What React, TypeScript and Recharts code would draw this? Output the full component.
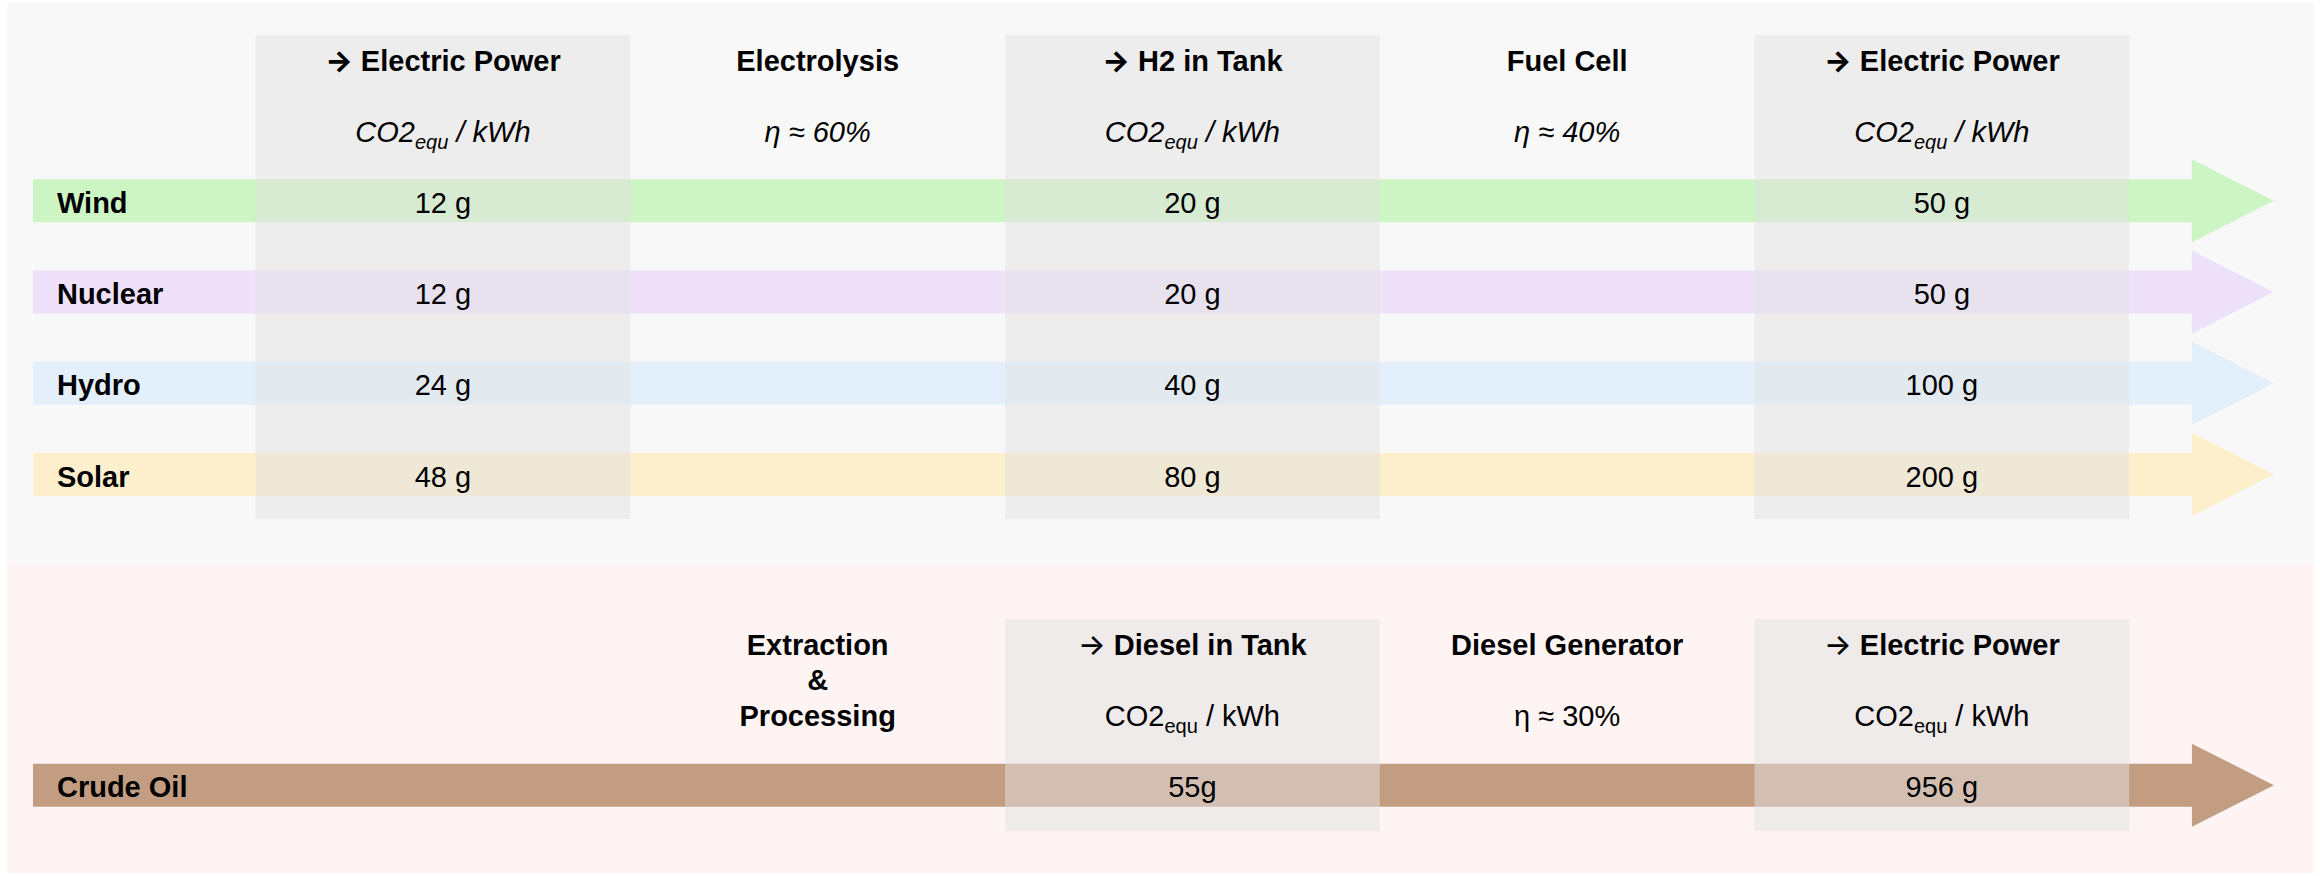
import React from 'react';
import { ComposedChart, Bar, Scatter, XAxis, YAxis, ReferenceArea } from 'recharts';

// hydrogen path: source power -> electrolysis -> tank -> fuel cell -> power
const h2Stages = ['→ Electric Power', 'Electrolysis', '→ H2 in Tank', 'Fuel Cell', '→ Electric Power'];
const h2Notes = ['co2', 'η ≈ 60%', 'co2', 'η ≈ 40%', 'co2'];
const sources = ['Wind', 'Nuclear', 'Hydro', 'Solar'];
const gridPower = [12, 12, 24, 48];
const h2InTank = [20, 20, 40, 80];
const h2Power = [50, 50, 100, 200];

// diesel path, starts one stage later
const oilSource = 'Crude Oil';
const oilStages = ['Extraction\n&\nProcessing', '→ Diesel in Tank', 'Diesel Generator', '→ Electric Power'];
const oilNotes = ['', 'co2', 'η ≈ 30%', 'co2'];
const dieselInTank = [55];
const dieselPower = [956];

// ---- layout (stage units on x, row units on y) ----
const W = 2320;
const H = 876;
const X_DOMAIN: [number, number] = [-1.182, 5.009];
const Y_DOMAIN: [number, number] = [-2.2, 7.4];
const ROW_Y: Record<string, number> = { Wind: 0, Nuclear: 1, Hydro: 2, Solar: 3, 'Crude Oil': 6.403 };
const FLOW_X: [number, number] = [-1.094, 4.886];
const LABEL_X = -1.03;
const PANEL_X: [number, number] = [-1.1634, 4.993];
const H2_PANEL_Y: [number, number] = [-2.167, 3.981];
const OIL_PANEL_Y: [number, number] = [3.981, 7.367];
const H2_COL_Y: [number, number] = [-1.816, 3.488];
const OIL_COL_Y: [number, number] = [4.583, 6.906];
const H2_TITLE_Y = -1.422;
const H2_NOTE_Y = -0.644;
const OIL_TITLE_Y = 4.978;
const OIL_NOTE_Y = 5.756;

const FONT = '"Liberation Sans", Arial, Helvetica, sans-serif';
const ARROW_FONT = 'Inter, "DejaVu Sans", sans-serif';
const FLOW_COLORS: Record<string, string> = {
  Wind: '#cdf5c4',
  Nuclear: '#efe1fa',
  Hydro: '#e3f0fc',
  Solar: '#fdefcc',
  'Crude Oil': '#c29d82',
};

const flowData = [...sources, oilSource].map((name) => ({ name, y: ROW_Y[name], span: FLOW_X }));

type TextItem = { x: number; y: number; text: string; kind: string; italic?: boolean; heavy?: boolean };

const texts: TextItem[] = [];
h2Stages.forEach((t, i) => {
  texts.push({ x: i, y: H2_TITLE_Y, text: t, kind: 'title', heavy: true });
  texts.push({ x: i, y: H2_NOTE_Y, text: h2Notes[i], kind: 'note', italic: true });
});
oilStages.forEach((t, i) => {
  texts.push({ x: i + 1, y: OIL_TITLE_Y, text: t, kind: 'title' });
  if (oilNotes[i]) texts.push({ x: i + 1, y: OIL_NOTE_Y, text: oilNotes[i], kind: 'note' });
});
sources.forEach((s, r) => {
  texts.push({ x: LABEL_X, y: ROW_Y[s], text: s, kind: 'label' });
  texts.push({ x: 0, y: ROW_Y[s], text: `${gridPower[r]} g`, kind: 'value' });
  texts.push({ x: 2, y: ROW_Y[s], text: `${h2InTank[r]} g`, kind: 'value' });
  texts.push({ x: 4, y: ROW_Y[s], text: `${h2Power[r]} g`, kind: 'value' });
});
texts.push({ x: LABEL_X, y: ROW_Y[oilSource], text: oilSource, kind: 'label' });
texts.push({ x: 2, y: ROW_Y[oilSource], text: `${dieselInTank[0]}g`, kind: 'value' });
texts.push({ x: 4, y: ROW_Y[oilSource], text: `${dieselPower[0]} g`, kind: 'value' });

const h2Columns = h2Notes.map((n, i) => (n === 'co2' ? i : -1)).filter((i) => i >= 0);
const oilColumns = oilNotes.map((n, i) => (n === 'co2' ? i + 1 : -1)).filter((i) => i >= 0);

const ArrowShape = (props: any) => {
  const { x, y, width, height } = props;
  const name = props.payload?.name ?? props.name;
  const head = 82;
  const half = 41.5;
  const mid = y + height / 2;
  const body = x + width - head;
  const d = `M${x},${y} H${body} V${mid - half} L${x + width},${mid} L${body},${mid + half} V${y + height} H${x} Z`;
  return <path d={d} fill={FLOW_COLORS[name]} />;
};

const TextShape = (props: any) => {
  const { cx, cy, payload } = props;
  const p: TextItem = payload;
  const common = { fontFamily: FONT, fontSize: 29, fill: '#000' };
  if (p.kind === 'label') {
    return (
      <text x={cx} y={cy + 12} textAnchor="start" fontWeight="bold" {...common}>
        {p.text}
      </text>
    );
  }
  if (p.kind === 'value') {
    return (
      <text x={cx} y={cy + 12} textAnchor="middle" {...common}>
        {p.text}
      </text>
    );
  }
  if (p.kind === 'note') {
    const style = p.italic ? 'italic' : 'normal';
    if (p.text === 'co2') {
      return (
        <text x={cx} y={cy} textAnchor="middle" fontStyle={style} {...common}>
          CO2
          <tspan fontSize={20} dy={7}>
            equ
          </tspan>
          <tspan dy={-7}> / kWh</tspan>
        </text>
      );
    }
    return (
      <text x={cx} y={cy} textAnchor="middle" fontStyle={style} {...common}>
        {p.text}
      </text>
    );
  }
  const lines = p.text.split('\n');
  return (
    <text x={cx} y={cy} textAnchor="middle" fontWeight="bold" {...common}>
      {lines.map((l, i) =>
        l.startsWith('→') ? (
          <tspan key={i} x={cx} dy={i === 0 ? 0 : 35.5}>
            <tspan fontFamily={ARROW_FONT} fontWeight={p.heavy ? 800 : 500}>
              →
            </tspan>
            {l.slice(1)}
          </tspan>
        ) : (
          <tspan key={i} x={cx} dy={i === 0 ? 0 : 35.5}>
            {l}
          </tspan>
        )
      )}
    </text>
  );
};

export default function App() {
  return (
    <div style={{ width: W, height: H, background: '#fff' }}>
      <style>{'body{margin:0}'}</style>
      <ComposedChart
        width={W}
        height={H}
        layout="vertical"
        data={flowData}
        margin={{ top: 0, right: 0, bottom: 0, left: 0 }}
      >
        <XAxis type="number" dataKey="x" domain={X_DOMAIN} allowDataOverflow hide />
        <YAxis type="number" dataKey="y" domain={Y_DOMAIN} allowDataOverflow hide />

        {/* panel backgrounds */}
        <ReferenceArea
          x1={PANEL_X[0]}
          x2={PANEL_X[1]}
          y1={H2_PANEL_Y[0]}
          y2={H2_PANEL_Y[1]}
          fill="#f8f8f8"
          fillOpacity={1}
          stroke="none"
          zIndex={-200}
        />
        <ReferenceArea
          x1={PANEL_X[0]}
          x2={PANEL_X[1]}
          y1={OIL_PANEL_Y[0]}
          y2={OIL_PANEL_Y[1]}
          fill="#fef4f4"
          fillOpacity={1}
          stroke="none"
          zIndex={-200}
        />

        <Bar dataKey="span" barSize={43} shape={ArrowShape} isAnimationActive={false} zIndex={300} />

        {/* shaded CO2 columns */}
        {h2Columns.map((s) => (
          <ReferenceArea
            key={`h${s}`}
            x1={s - 0.5}
            x2={s + 0.5}
            y1={H2_COL_Y[0]}
            y2={H2_COL_Y[1]}
            fill="#e2e2e2"
            fillOpacity={0.5}
            stroke="none"
            zIndex={400}
          />
        ))}
        {oilColumns.map((s) => (
          <ReferenceArea
            key={`o${s}`}
            x1={s - 0.5}
            x2={s + 0.5}
            y1={OIL_COL_Y[0]}
            y2={OIL_COL_Y[1]}
            fill="#e2e2e2"
            fillOpacity={0.5}
            stroke="none"
            zIndex={400}
          />
        ))}

        <Scatter data={texts} shape={TextShape} isAnimationActive={false} zIndex={600} />
      </ComposedChart>
    </div>
  );
}
